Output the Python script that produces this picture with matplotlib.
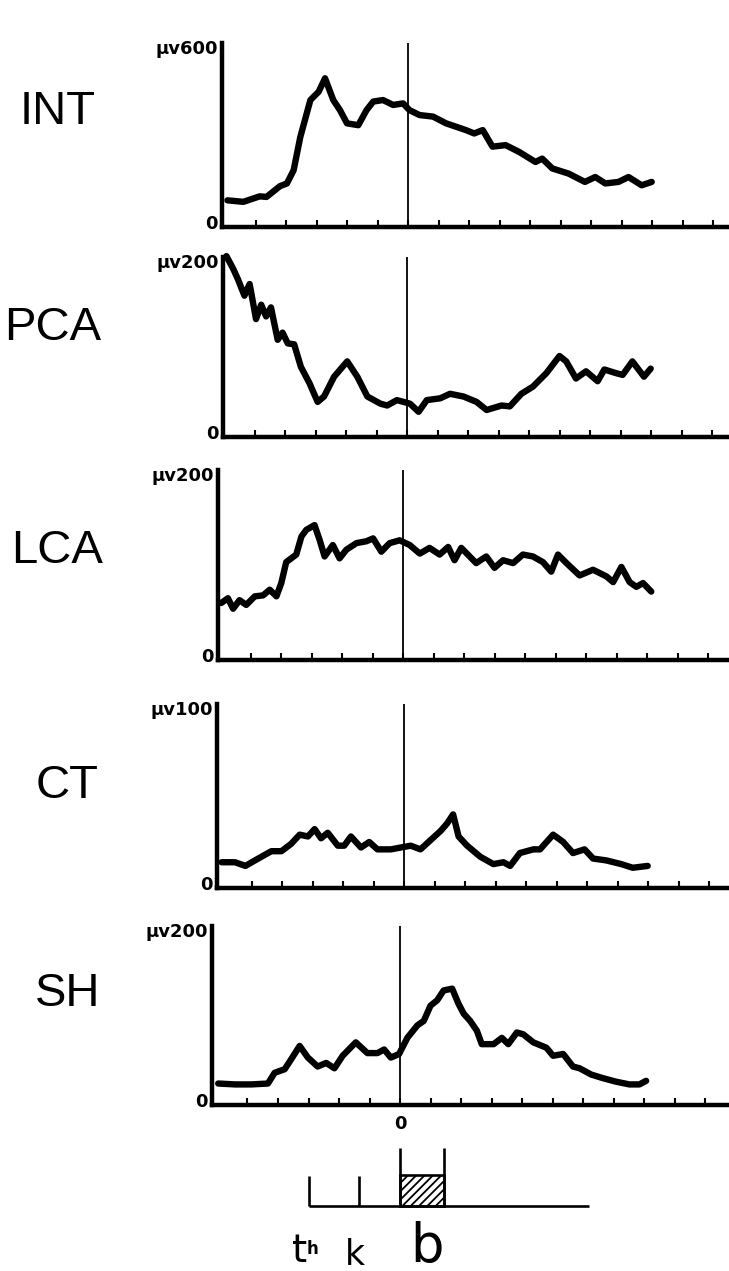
import matplotlib.pyplot as plt

# EMG traces, time in tick units (onset of b = 0), amplitude in microvolts
int_t = [-5.92, -5.4, -4.86, -4.64, -4.2, -3.97, -3.75, -3.53, -3.2, -2.93, -2.72, -2.45, -2.23, -2.0,
         -1.63, -1.36, -1.14, -0.82, -0.49, -0.16, 0.05, 0.38, 0.82, 1.25, 1.9, 2.17, 2.45, 2.77, 3.2,
         3.64, 4.18, 4.4, 4.73, 5.27, 5.8, 6.14, 6.47, 6.9, 7.23, 7.66, 7.99]
int_v = [87, 82, 100, 98, 133, 142, 185, 294, 414, 441, 485, 414, 381, 338,
         332, 381, 409, 414, 398, 403, 381, 365, 360, 338, 316, 305, 316, 262, 267,
         245, 212, 223, 191, 174, 147, 163, 142, 147, 163, 136, 147]

pca_t = [-5.92, -5.7, -5.54, -5.33, -5.16, -4.95, -4.78, -4.62, -4.46, -4.24, -4.08, -3.91, -3.7, -3.48,
         -3.2, -2.93, -2.72, -2.39, -1.96, -1.63, -1.3, -0.87, -0.65, -0.33, 0.1, 0.38, 0.65, 1.09, 1.41,
         1.85, 2.28, 2.61, 3.1, 3.37, 3.75, 4.13, 4.57, 5.0, 5.22, 5.54, 5.87, 6.25, 6.47, 6.85, 7.07,
         7.39, 7.77, 7.99]
pca_v = [201, 187, 175, 157, 170, 131, 147, 134, 144, 108, 116, 104, 103, 78,
         60, 39, 45, 67, 84, 67, 45, 37, 35, 41, 37, 28, 41, 43, 48,
         45, 39, 30, 35, 34, 48, 56, 71, 90, 84, 65, 73, 62, 75, 71, 69,
         84, 67, 76]

lca_t = [-5.96, -5.74, -5.57, -5.36, -5.14, -4.86, -4.59, -4.37, -4.15, -3.99, -3.83, -3.5, -3.33, -3.17,
         -2.9, -2.73, -2.57, -2.3, -2.08, -1.86, -1.53, -1.2, -0.98, -0.71, -0.44, -0.11, 0.22, 0.55,
         0.87, 1.2, 1.48, 1.69, 1.91, 2.4, 2.73, 3.0, 3.28, 3.61, 3.93, 4.26, 4.59, 4.86, 5.08, 5.36,
         5.79, 6.23, 6.67, 6.89, 7.16, 7.43, 7.65, 7.87, 8.14]
lca_v = [60, 65, 54, 63, 58, 67, 68, 74, 67, 81, 103, 111, 130, 137,
         142, 126, 109, 121, 107, 116, 123, 125, 128, 114, 123, 126, 121, 112,
         118, 111, 119, 105, 118, 102, 109, 97, 105, 102, 111, 109, 103, 93, 111, 102,
         89, 95, 88, 82, 98, 82, 77, 81, 72]

ct_t = [-5.98, -5.54, -5.2, -4.78, -4.35, -4.02, -3.7, -3.42, -3.15, -2.93, -2.72, -2.5, -2.17, -1.96,
        -1.74, -1.41, -1.14, -0.87, -0.43, -0.11, 0.22, 0.54, 0.87, 1.2, 1.41, 1.61, 1.79, 2.07, 2.5,
        2.93, 3.26, 3.48, 3.8, 4.24, 4.46, 4.89, 5.22, 5.54, 5.92, 6.2, 6.63, 7.12, 7.5, 7.99]
ct_v = [14, 14, 12, 16, 20, 20, 24, 29, 28, 32, 27, 30, 23, 23,
        28, 22, 25, 21, 21, 22, 23, 21, 26, 31, 35, 40, 28, 23, 17,
        13, 14, 12, 19, 21, 21, 29, 25, 19, 21, 16, 15, 13, 11, 12]

sh_t = [-5.96, -5.41, -4.87, -4.33, -4.11, -3.78, -3.57, -3.29, -3.02, -2.7, -2.42, -2.15, -1.88, -1.45,
        -1.07, -0.74, -0.52, -0.3, -0.03, 0.24, 0.57, 0.78, 1.0, 1.22, 1.43, 1.71, 1.92, 2.09, 2.3,
        2.52, 2.68, 3.07, 3.34, 3.55, 3.83, 4.04, 4.37, 4.8, 5.02, 5.35, 5.67, 5.89, 6.27, 6.65, 7.09,
        7.52, 7.85, 8.07]
sh_v = [24, 23, 23, 24, 36, 40, 51, 66, 53, 43, 47, 41, 55, 70,
        58, 58, 62, 53, 57, 75, 89, 94, 111, 117, 128, 130, 113, 102, 94,
        83, 68, 68, 75, 68, 81, 79, 70, 64, 55, 57, 43, 41, 34, 30, 26,
        23, 23, 27]

muscles = ['INT', 'PCA', 'LCA', 'CT', 'SH']
scales = [600, 200, 200, 100, 200]
series = [(int_t, int_v), (pca_t, pca_v), (lca_t, lca_v), (ct_t, ct_v), (sh_t, sh_v)]

# stimulus timeline below the traces
stim_names = ['t', 'k', 'b']
stim_onsets = [-3.0, -1.35, 0.0]
b_duration = 1.45
record_end = 6.2

# page geometry in pixels: y-axis x, zero-line x, top, baseline
W, H = 729, 1271
PX_TICK = 30.5
geom = [(222, 408, 43, 227), (223, 407, 257, 437), (218, 403, 470, 660),
        (217, 404, 704, 888), (212, 400, 926, 1105)]
label_pos = [(58, 112), (53, 328), (57, 551), (67, 786), (68, 994)]

fig = plt.figure(figsize=(W / 100, H / 100), dpi=100)
fig.patch.set_facecolor('white')

for name, ymax, (t, v), (ax_x, zero_x, top, base), (lx, ly) in zip(
        muscles, scales, series, geom, label_pos):
    ax = fig.add_axes([ax_x / W, 1 - base / H, (W - ax_x) / W, (base - top) / H])
    ax.set_xlim(-(zero_x - ax_x) / PX_TICK, (W - zero_x) / PX_TICK)
    ax.set_ylim(0, ymax)
    for s in ['top', 'right']:
        ax.spines[s].set_visible(False)
    for s in ['left', 'bottom']:
        ax.spines[s].set_linewidth(3.2)
    ax.set_xticks(range(-5, 11))
    ax.set_yticks([])
    ax.tick_params(axis='x', direction='in', length=5, width=1.5, labelbottom=False)
    ax.axvline(0, color='black', lw=1.3)
    ax.plot(t, v, color='black', lw=4.6, solid_joinstyle='round', solid_capstyle='round', clip_on=False)

    ax.annotate(f'µv{ymax}', xy=(0, 1), xycoords='axes fraction', xytext=(-4, -6),
                textcoords='offset pixels', ha='right', va='center', fontsize=13, fontweight='bold')
    ax.annotate('0', xy=(0, 0), xycoords='axes fraction', xytext=(-4, 3),
                textcoords='offset pixels', ha='right', va='center', fontsize=13, fontweight='bold')
    fig.text(lx / W, 1 - ly / H, name, ha='center', va='center', fontsize=34,
             family='Liberation Sans')
    last = ax

last.annotate('0', xy=(0, 0), xycoords='data', xytext=(0, -19), textcoords='offset pixels',
              ha='center', va='center', fontsize=13, fontweight='bold', annotation_clip=False)

# stimulus diagram
ax_x, zero_x = geom[-1][0], geom[-1][1]
sx = fig.add_axes([ax_x / W, 1 - 1212 / H, (W - ax_x) / W, 72 / H])
sx.set_xlim(-(zero_x - ax_x) / PX_TICK, (W - zero_x) / PX_TICK)
sx.set_ylim(-0.2, 2.2)
sx.axis('off')
plt.rcParams['hatch.linewidth'] = 1.3
sx.plot([stim_onsets[0], record_end], [0, 0], color='black', lw=1.9, solid_capstyle='butt')
sx.vlines(stim_onsets[:2], 0, 1.0, color='black', lw=1.9)
sx.bar(stim_onsets[2], 1.03, width=b_duration, align='edge', facecolor='white',
       edgecolor='black', hatch='////', lw=1.9)
sx.vlines([stim_onsets[2], stim_onsets[2] + b_duration], 0, 1.93, color='black', lw=1.9)

sx.text(stim_onsets[0] - 0.3, -1.5, stim_names[0], ha='center', va='center', fontsize=28,
        clip_on=False)
sx.text(stim_onsets[0] + 0.13, -1.45, 'h', ha='center', va='center', fontsize=12,
        fontweight='bold', clip_on=False)
sx.text(stim_onsets[1] - 0.12, -1.63, stim_names[1], ha='center', va='center', fontsize=25,
        clip_on=False)
sx.text(stim_onsets[2] + 0.88, -1.37, stim_names[2], ha='center', va='center', fontsize=38,
        clip_on=False)

fig.savefig('out.png', dpi=100)
